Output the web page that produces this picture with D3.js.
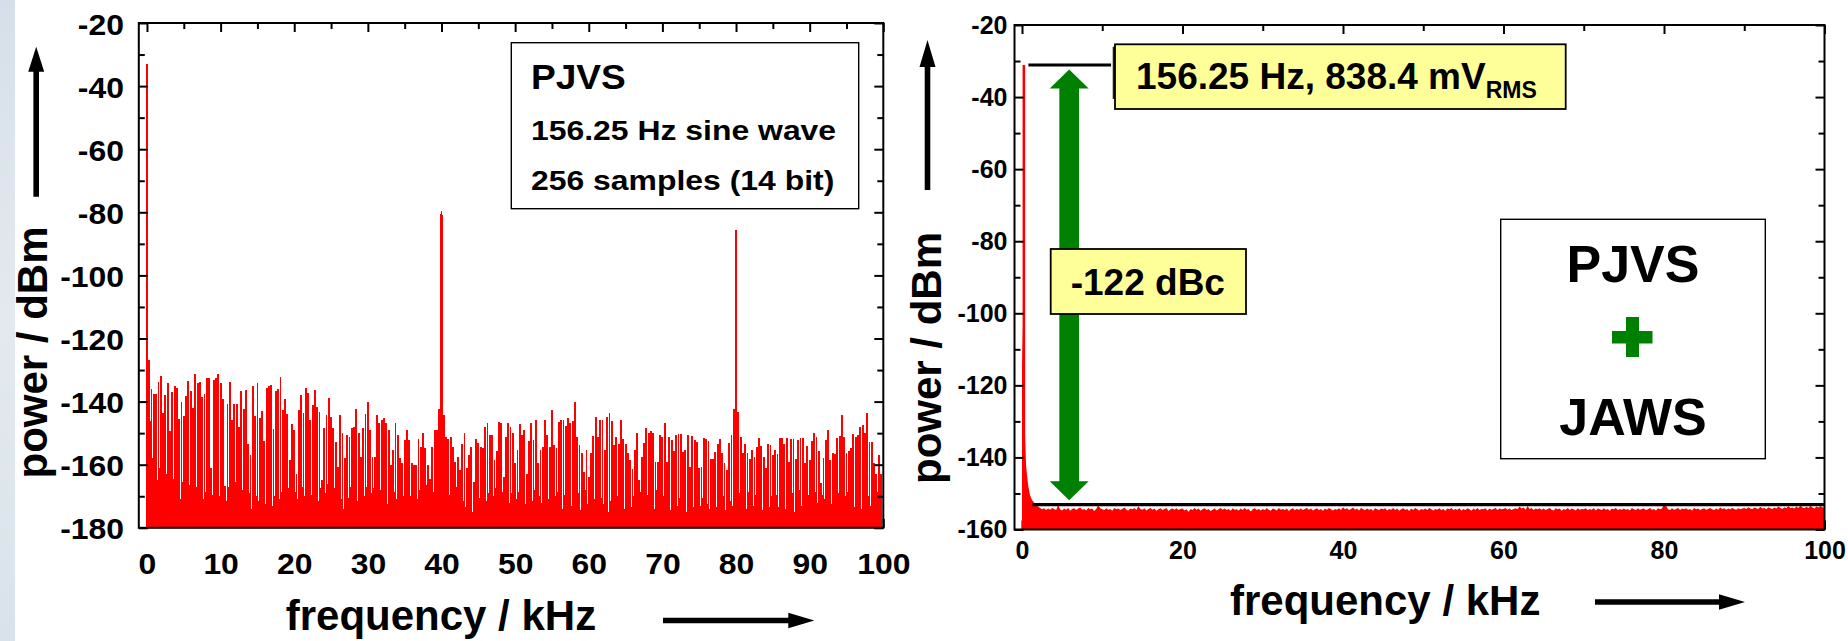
<!DOCTYPE html>
<html>
<head>
<meta charset="utf-8">
<script src="https://cdn.jsdelivr.net/npm/d3@7"></script>
<style>
  html, body { margin: 0; padding: 0; background: #fff; }
  svg { display: block; }
</style>
</head>
<body>
<svg id="chart" width="1848" height="641"></svg>
<script>
// ---------------------------------------------------------------------------
// Data
// ---------------------------------------------------------------------------

// FFT bin spacing of the 256-sample PJVS record (kHz)
const binWidthKHz = 0.15625;

// PJVS spectrum, even FFT bins (bin 2k), power in dBm
const pjvsEvenBinDb = [
  -33.0,
  // 0.3 – 20 kHz
  -126.7, -135.9, -137.5, -137.7, -133.8, -132.0, -143.6, -138.0, -134.0, -149.4, -137.0, -135.2, -135.6, -145.6, -140.0, -144.7,
  -138.1, -133.4, -136.6, -141.9, -131.3, -134.0, -133.8, -138.5, -137.5, -132.4, -132.6, -161.0, -133.0, -132.4, -131.3, -134.0,
  -139.3, -166.6, -140.8, -133.8, -145.7, -140.8, -140.8, -148.0, -136.7, -142.5, -136.4, -153.5, -157.0, -135.1, -144.7, -134.0,
  -145.1, -143.0, -152.5, -135.8, -135.1, -134.6, -148.8, -136.7, -136.0, -132.2, -142.8, -139.2, -143.9, -158.4, -147.1, -148.9,
  // 20 – 39.7 kHz
  -162.8, -142.7, -138.0, -143.5, -135.6, -137.2, -145.9, -141.1, -136.4, -141.6,
  -143.2, -164.7, -148.5, -144.3, -139.0, -144.8, -148.5, -152.7, -160.7, -144.3,
  -150.1, -158.0, -150.6, -151.2, -148.5, -148.0, -142.2, -150.1, -157.5, -148.5,
  -144.0, -140.1, -149.0, -157.5, -157.5, -144.3, -146.9, -145.9, -145.3, -146.9,
  -149.0, -160.1, -155.4, -146.9, -150.6, -158.0, -159.6, -152.2, -149.0, -152.2,
  -159.6, -160.1, -160.1, -151.7, -154.3, -150.1, -154.8, -160.1, -164.4, -154.3,
  -149.0, -149.0,
  // 40 kHz line
  -142.2, -79.5, -144.3,
  -151.2, -151.7, -151.2, -154.3, -159.1, -157.5,
  // 42.5 – 79.7 kHz
  -161.7, -153.3, -150.1, -161.2, -157.0, -154.3, -165.4, -152.0, -153.1, -154.5,
  -154.8, -148.0, -146.9, -150.6, -150.6, -158.5, -155.6, -146.4, -146.9, -163.8,
  -151.2, -146.9, -148.0, -150.1, -159.6, -155.2, -147.1, -150.6, -149.0, -162.8,
  -152.4, -146.7, -152.2, -145.9, -159.6, -155.2, -154.5, -145.7, -150.6, -154.3,
  -142.7, -153.9, -154.6, -146.4, -145.9, -145.7, -147.8, -145.3, -146.7, -146.1,
  -140.1, -151.2, -153.8, -156.4, -162.2, -155.2, -163.8, -156.4, -150.9, -145.0,
  -151.2, -145.9, -145.9, -155.4, -144.8, -143.5, -146.1, -153.8, -151.2, -153.5,
  -145.9, -151.7, -153.3, -156.4, -158.5, -161.5, -155.4, -150.1, -164.9, -157.5,
  -153.1, -148.5, -150.1, -149.3, -150.1, -159.1, -159.1, -150.6, -151.2, -146.7,
  -159.1, -151.2, -152.2, -155.6, -150.6, -150.3, -150.3, -155.9, -155.2, -150.6,
  -160.7, -150.9, -152.2, -152.7, -161.2, -160.7, -151.4, -152.0, -152.4, -158.3,
  -158.3, -155.9, -153.5, -151.7, -156.2, -159.6, -161.7, -153.1, -150.6,
  // 80 kHz line
  -142.5, -85.6, -143.2,
  // 80.6 – 99.7 kHz
  -151.2, -156.4, -153.3, -156.4, -158.3, -155.4, -157.7, -154.3, -151.4, -154.1,
  -157.5, -161.2, -153.3, -153.8, -157.0, -155.4, -156.6, -151.4, -151.4, -153.3,
  -151.4, -159.1, -152.0, -152.0, -158.3, -152.2, -151.4, -151.4, -159.6, -154.1,
  -158.5, -152.4, -149.9, -151.2, -155.6, -165.9, -158.0, -152.2, -149.0, -158.5,
  -156.4, -156.6, -151.4, -150.9, -144.3, -151.2, -156.4, -155.6, -154.8, -150.3,
  -151.2, -150.6, -148.2, -147.5, -150.1, -143.5, -152.7, -152.7, -159.4, -162.8,
  -157.0, -162.8
];

// PJVS spectrum, odd FFT bins (bin 2k+1), power in dBm
const pjvsOddBinDb = [
  -31.4, -146.0, -158.0, -163.5, -165.0, -161.0, -166.5, -168.0, -163.0, -170.0, -166.0, -164.5, -169.0, -167.0, -171.0, -165.5,
  -168.0, -172.0, -166.5, -169.0, -173.5, -167.0, -170.5, -165.0, -171.0, -168.5, -173.0, -166.0, -169.5, -172.5, -167.5, -170.0,
  -166.0, -169.5, -171.5, -167.0, -172.0, -168.5, -165.5, -170.5, -173.0, -168.0, -166.5, -171.0, -169.0, -174.0, -167.5, -170.0,
  -171.5, -168.0, -166.0, -172.5, -169.5, -167.0, -173.0, -170.0, -166.5, -171.0, -168.5, -174.5, -169.0, -167.5, -172.0, -170.5,
  -168.5, -171.0, -173.5, -167.0, -170.0, -172.5, -166.5, -169.5, -174.0, -168.0, -171.5, -167.5, -173.0, -169.0, -166.0, -172.0,
  -170.0, -167.5, -172.5, -169.0, -171.0, -174.0, -168.0, -170.5, -167.0, -173.5, -169.5, -171.5, -168.5, -175.0, -170.0, -167.0,
  -172.0, -169.0, -167.5, -171.5, -173.0, -168.0, -170.5, -166.5, -172.5, -169.5, -174.0, -168.5, -171.0, -167.0, -173.5, -170.0,
  -169.0, -172.5, -170.0, -167.5, -173.0, -171.0, -168.0, -174.5, -169.5, -166.5, -172.0, -170.5, -168.5, -173.5, -171.5, -80.5,
  -81.0, -168.0, -172.0, -169.5, -174.0, -170.5, -167.0, -172.5, -169.0, -171.5, -173.5, -168.5, -170.0, -175.0, -169.5, -172.0,
  -170.5, -173.0, -168.0, -171.5, -169.0, -174.5, -170.0, -167.5, -172.5, -171.0, -168.5, -173.5, -170.0, -172.0, -169.0, -174.0,
  -171.0, -168.5, -173.0, -170.5, -172.5, -169.0, -174.5, -171.5, -168.0, -173.0, -170.0, -172.0, -169.5, -175.0, -171.0, -168.5,
  -173.5, -170.0, -168.5, -172.0, -174.0, -169.5, -171.0, -167.5, -173.0, -170.5, -172.5, -169.0, -174.5, -171.5, -168.0, -172.5,
  -169.5, -173.0, -171.0, -168.0, -174.0, -170.5, -172.5, -169.0, -175.0, -171.5, -168.5, -173.5, -170.0, -172.0, -169.5, -174.0,
  -171.5, -169.0, -173.5, -170.0, -172.0, -175.0, -168.5, -171.0, -173.0, -169.5, -172.5, -170.5, -174.0, -168.0, -171.5, -173.0,
  -170.0, -172.5, -169.0, -174.5, -171.0, -168.5, -173.0, -170.5, -172.0, -169.5, -175.0, -171.5, -168.0, -173.5, -170.0, -172.0,
  -173.0, -170.5, -168.0, -172.5, -174.0, -169.5, -171.0, -173.5, -168.5, -172.0, -170.0, -174.5, -169.0, -171.5, -173.0, -86.8,
  -87.2, -169.0, -172.5, -170.0, -174.0, -168.5, -171.5, -173.0, -169.5, -172.0, -170.5, -174.5, -168.0, -171.0, -173.5, -170.0,
  -172.0, -169.5, -173.5, -171.0, -168.5, -174.0, -170.0, -172.5, -169.0, -175.0, -171.5, -168.0, -173.0, -170.5, -172.0, -169.5,
  -170.5, -173.0, -168.5, -172.0, -174.5, -169.5, -171.0, -173.5, -168.0, -172.5, -170.0, -174.0, -169.0, -171.5, -173.0, -170.0,
  -168.5, -172.0, -170.5, -173.5, -169.0, -171.5, -174.0, -168.0, -172.5, -170.0, -173.0, -169.5, -171.0, -168.5, -172.0, -170.5
];

// PJVS + JAWS spectrum: noise floor sampled every 0.25 kHz from 0 to 100 kHz (dBm)
const floorStepKHz = 0.25;
const jawsFloorDb = [
  -104.0, -125.0, -142.0, -147.5, -150.5, -151.8, -152.5, -153.2, -153.6, -154.0, -154.4, -154.1, -154.6, -154.2, -154.5, -154.0, -154.3, -154.6, -153.2, -154.4,
  -154.7, -154.2, -154.5, -154.0, -154.8, -154.3, -154.1, -154.6, -154.2, -153.9, -154.5, -154.3, -154.7, -154.0, -154.4, -154.2, -154.9, -154.3, -153.3, -154.1,
  -154.4, -154.6, -154.1, -154.5, -154.3, -154.8, -154.0, -154.4, -154.2, -154.6, -154.3, -153.9, -154.5, -154.7, -154.2, -154.4, -154.0, -154.6, -153.5, -154.3,
  -154.5, -154.1, -154.7, -154.3, -154.0, -154.5, -154.2, -154.8, -154.4, -154.1, -154.6, -154.3, -154.0, -154.9, -154.4, -154.2, -154.5, -154.1, -154.6, -154.3,
  -154.2, -154.7, -154.4, -155.1, -154.3, -154.6, -154.0, -154.5, -154.2, -154.8, -154.4, -154.1, -154.6, -154.3, -154.9, -154.5, -154.2, -154.7, -154.4, -154.0,
  -154.5, -154.2, -154.6, -154.3, -154.8, -154.1, -154.5, -154.4, -154.7, -154.2, -154.6, -154.0, -154.5, -154.3, -155.0, -154.4, -154.1, -154.6, -154.3, -154.7,
  -154.3, -154.6, -154.1, -154.5, -154.8, -154.2, -154.4, -154.7, -154.0, -154.5, -154.3, -154.6, -154.2, -154.9, -154.4, -154.1, -154.6, -154.3, -154.5, -154.2,
  -154.6, -154.3, -154.0, -154.5, -154.2, -154.7, -154.4, -154.1, -154.6, -154.3, -154.8, -154.2, -154.5, -154.0, -154.4, -154.7, -154.3, -154.5, -154.1, -154.6,
  -153.8, -154.4, -154.1, -154.6, -154.3, -153.9, -154.5, -154.2, -154.7, -154.0, -154.4, -154.6, -154.2, -154.5, -154.3, -154.8, -154.1, -154.4, -154.6, -154.2,
  -154.4, -154.1, -154.7, -154.3, -154.5, -154.0, -154.6, -154.2, -154.8, -154.4, -154.1, -154.5, -154.3, -154.9, -154.2, -154.6, -154.0, -154.4, -154.7, -154.3,
  -154.5, -154.2, -154.6, -154.0, -154.4, -154.7, -154.3, -154.5, -154.1, -154.6, -154.3, -154.8, -154.2, -154.4, -154.0, -154.6, -154.3, -154.5, -154.1, -154.7,
  -154.3, -154.6, -154.1, -154.4, -154.8, -154.2, -154.5, -154.0, -154.6, -154.3, -154.4, -154.1, -154.7, -154.2, -154.5, -154.3, -154.0, -154.6, -154.2, -154.4,
  -154.3, -154.0, -154.5, -154.2, -154.6, -154.3, -154.1, -154.4, -153.6, -154.2, -153.9, -154.5, -153.5, -154.3, -154.0, -154.6, -154.2, -154.4, -154.1, -154.5,
  -154.2, -154.6, -154.3, -154.0, -154.5, -154.7, -154.1, -154.4, -154.2, -154.8, -154.3, -154.5, -154.0, -154.6, -154.2, -154.4, -154.7, -154.1, -154.5, -154.3,
  -154.4, -154.1, -154.6, -154.3, -154.5, -154.0, -154.7, -154.2, -154.4, -154.6, -154.1, -154.5, -154.3, -154.8, -154.2, -154.4, -154.0, -154.6, -154.3, -154.5,
  -154.2, -154.5, -154.3, -154.7, -154.0, -154.4, -154.6, -154.1, -154.5, -154.3, -154.2, -154.6, -154.4, -154.0, -154.5, -154.3, -154.7, -154.1, -154.4, -154.2,
  -152.9, -153.4, -154.4, -154.6, -154.1, -154.5, -154.3, -154.0, -154.6, -154.2, -154.4, -154.1, -154.5, -154.3, -154.7, -154.0, -154.4, -154.2, -154.6, -154.3,
  -154.1, -154.5, -154.3, -154.0, -154.4, -154.6, -154.2, -154.5, -153.9, -154.3, -154.1, -154.5, -154.2, -154.4, -154.0, -154.3, -154.5, -154.1, -154.4, -154.2,
  -154.0, -154.3, -153.8, -154.2, -154.4, -153.9, -154.1, -154.3, -153.7, -154.2, -154.0, -154.4, -153.8, -154.1, -154.3, -153.9, -154.2, -153.6, -154.0, -154.3,
  -153.8, -154.1, -153.5, -154.0, -153.9, -154.2, -153.6, -154.0, -153.3, -153.9, -154.1, -153.7, -154.0, -153.4, -153.9, -154.2, -153.6, -153.9, -153.5, -153.8,
  -154.0
];

// 156.25 Hz carrier of the combined system and its distance to the noise floor
const carrierKHz = 0.15625;
const carrierDb = -31.1;
const carrierDbc = -122;

// axis ticks
const leftXMajor = [0, 10, 20, 30, 40, 50, 60, 70, 80, 90, 100];
const leftXMinor = [5, 15, 25, 35, 45, 55, 65, 75, 85, 95];
const leftYMajor = [-180, -160, -140, -120, -100, -80, -60, -40, -20];
const leftYMinor = [-170, -150, -130, -110, -90, -70, -50, -30];
const rightXMajor = [0, 20, 40, 60, 80, 100];
const rightXMinor = [10, 30, 50, 70, 90];
const rightYMajor = [-160, -140, -120, -100, -80, -60, -40, -20];
const rightYMinor = [-150, -130, -110, -90, -70, -50, -30];

// text
const pjvsLegend = ["PJVS", "156.25 Hz sine wave", "256 samples (14 bit)"];
const carrierLabel = "156.25 Hz, 838.4 mV";
const carrierLabelSub = "RMS";
const dbcText = "-122 dBc";
const comboTop = "PJVS";
const comboBottom = "JAWS";
const xTitle = "frequency / kHz";
const yTitle = "power / dBm";

// ---------------------------------------------------------------------------
// Drawing
// ---------------------------------------------------------------------------
const FONT = '"Liberation Sans", Arial, Helvetica, sans-serif';
const RED = "#ff0000";
const GREEN = "#008000";
const svg = d3.select("#chart");

// pale strip along the left edge of the slide
const defs = svg.append("defs");
const grad = defs.append("linearGradient").attr("id", "edge").attr("x1", 0).attr("x2", 0).attr("y1", 0).attr("y2", 1);
grad.append("stop").attr("offset", 0).attr("stop-color", "#d6dfe9");
grad.append("stop").attr("offset", 0.5).attr("stop-color", "#e3e9f0");
grad.append("stop").attr("offset", 1).attr("stop-color", "#d9e2eb");
svg.append("rect").attr("x", 0).attr("y", 0).attr("width", 15).attr("height", 641).attr("fill", "url(#edge)");

function axisG(parent, axis, tx, ty) {
  const g = parent.append("g").attr("transform", `translate(${tx},${ty})`).call(axis);
  g.select(".domain").remove();
  g.selectAll(".tick line").attr("stroke", "#000").attr("stroke-width", 2);
  g.attr("font-family", FONT).attr("font-weight", "bold");
  return g;
}

function arrowUp(parent, cx, yTip, yEnd, headW, headH, shaftW, fill) {
  const p = d3.path();
  p.moveTo(cx, yTip);
  p.lineTo(cx + headW / 2, yTip + headH);
  p.lineTo(cx + shaftW / 2, yTip + headH);
  p.lineTo(cx + shaftW / 2, yEnd);
  p.lineTo(cx - shaftW / 2, yEnd);
  p.lineTo(cx - shaftW / 2, yTip + headH);
  p.lineTo(cx - headW / 2, yTip + headH);
  p.closePath();
  parent.append("path").attr("d", p.toString()).attr("fill", fill);
}

function arrowRight(parent, xStart, xTip, cy, headL, headH, shaftW, fill) {
  const p = d3.path();
  p.moveTo(xTip, cy);
  p.lineTo(xTip - headL, cy - headH / 2);
  p.lineTo(xTip - headL, cy - shaftW / 2);
  p.lineTo(xStart, cy - shaftW / 2);
  p.lineTo(xStart, cy + shaftW / 2);
  p.lineTo(xTip - headL, cy + shaftW / 2);
  p.lineTo(xTip - headL, cy + headH / 2);
  p.closePath();
  parent.append("path").attr("d", p.toString()).attr("fill", fill);
}

function doubleArrow(parent, cx, yTop, yBot, headW, headH, shaftW, fill) {
  const p = d3.path();
  p.moveTo(cx, yTop);
  p.lineTo(cx + headW / 2, yTop + headH);
  p.lineTo(cx + shaftW / 2, yTop + headH);
  p.lineTo(cx + shaftW / 2, yBot - headH);
  p.lineTo(cx + headW / 2, yBot - headH);
  p.lineTo(cx, yBot);
  p.lineTo(cx - headW / 2, yBot - headH);
  p.lineTo(cx - shaftW / 2, yBot - headH);
  p.lineTo(cx - shaftW / 2, yTop + headH);
  p.lineTo(cx - headW / 2, yTop + headH);
  p.closePath();
  parent.append("path").attr("d", p.toString()).attr("fill", fill);
}

function label(parent, x, y, txt, size, sx, anchor) {
  return parent.append("text")
    .attr("transform", `translate(${x},${y}) scale(${sx || 1},1)`)
    .attr("text-anchor", anchor || "start")
    .attr("font-family", FONT).attr("font-weight", "bold")
    .attr("font-size", size).attr("fill", "#000")
    .text(txt);
}

// ----------------------------- left panel: PJVS ----------------------------
const L = { left: 138.8, right: 883.3, top: 23, bottom: 527.8 };
const xL = d3.scaleLinear().domain([-1.11, 100]).range([L.left, L.right]);
const yL = d3.scaleLinear().domain([-180, -20]).range([L.bottom, L.top]);
const gL = svg.append("g");
const LSX = 1.1; // horizontal stretch of the left panel lettering

// bottom ticks + labels (tick marks sit beneath the spectrum)
axisG(gL, d3.axisBottom(xL).tickValues(leftXMinor).tickSize(-6).tickFormat(""), 0, L.bottom);
const lxLab = axisG(gL, d3.axisBottom(xL).tickValues(leftXMajor).tickSize(-9).tickPadding(25.5)
  .tickFormat(d => String(d)), 0, L.bottom).attr("font-size", 29);
lxLab.selectAll("text").attr("transform", `scale(${LSX},1)`);

// spectrum columns, one per FFT bin: the even-bin columns are drawn wide,
// the odd-bin ones narrow, so each pair fills two bin spacings
const pjvsBins = [];
pjvsEvenBinDb.forEach((db, k) => {
  pjvsBins.push({ f: 2 * k * binWidthKHz, db, even: true });
  pjvsBins.push({ f: (2 * k + 1) * binWidthKHz, db: pjvsOddBinDb[k], even: false });
});
const pairW = xL(2 * binWidthKHz) - xL(0);
const wideW = pairW * 0.8, narrowW = pairW - wideW;
gL.append("g").attr("shape-rendering", "crispEdges")
  .selectAll("rect").data(pjvsBins).join("rect")
  .attr("x", d => xL(d.f) - (d.even ? wideW : narrowW) / 2)
  .attr("width", d => d.even ? wideW : narrowW)
  .attr("y", d => yL(d.db))
  .attr("height", d => yL(-180) - yL(d.db))
  .attr("fill", RED);

// remaining ticks on top of the data
axisG(gL, d3.axisTop(xL).tickValues(leftXMajor).tickSize(-9).tickFormat(""), 0, L.top);
axisG(gL, d3.axisTop(xL).tickValues(leftXMinor).tickSize(-6).tickFormat(""), 0, L.top);
axisG(gL, d3.axisLeft(yL).tickValues(leftYMinor).tickSize(-6).tickFormat(""), L.left, 0);
axisG(gL, d3.axisRight(yL).tickValues(leftYMajor).tickSize(-9).tickFormat(""), L.right, 0);
axisG(gL, d3.axisRight(yL).tickValues(leftYMinor).tickSize(-6).tickFormat(""), L.right, 0);
const lyLab = axisG(gL, d3.axisLeft(yL).tickValues(leftYMajor).tickSize(-9).tickPadding(13.5)
  .tickFormat(d => String(d)), L.left, 0).attr("font-size", 29);
lyLab.selectAll("text").attr("transform", `scale(${LSX},1)`).attr("dy", "0.38em");

gL.append("rect").attr("x", L.left).attr("y", L.top)
  .attr("width", L.right - L.left).attr("height", L.bottom - L.top)
  .attr("fill", "none").attr("stroke", "#000").attr("stroke-width", 2);

// legend
gL.append("rect").attr("x", 511.3).attr("y", 42.7).attr("width", 347.4).attr("height", 166)
  .attr("fill", "#fff").attr("stroke", "#000").attr("stroke-width", 1.4);
label(gL, 531, 89.3, pjvsLegend[0], 35, 1.06);
label(gL, 531, 139.5, pjvsLegend[1], 28.5, 1.12);
label(gL, 531, 189.5, pjvsLegend[2], 28.5, 1.12);

// axis titles and direction arrows
label(gL, 285.7, 630, xTitle, 42, 1);
arrowRight(gL, 663, 814.3, 620.5, 26, 15.6, 5.6, "#000");
gL.append("text").attr("transform", "translate(46.5,352.5) rotate(-90)")
  .attr("text-anchor", "middle").attr("font-family", FONT).attr("font-weight", "bold")
  .attr("font-size", 42).text(yTitle);
arrowUp(gL, 36.2, 46.7, 196.7, 16, 25, 5.6, "#000");

// ------------------------ right panel: PJVS + JAWS -------------------------
const R = { left: 1014.5, right: 1824.5, top: 25, bottom: 529.5 };
const xR = d3.scaleLinear().domain([-0.935, 100]).range([R.left, R.right]);
const yR = d3.scaleLinear().domain([-160, -20]).range([R.bottom, R.top]);
const gR = svg.append("g");

axisG(gR, d3.axisBottom(xR).tickValues(rightXMinor).tickSize(-6).tickFormat(""), 0, R.bottom);
axisG(gR, d3.axisBottom(xR).tickValues(rightXMajor).tickSize(-9).tickPadding(12)
  .tickFormat(d => String(d)), 0, R.bottom).attr("font-size", 25);

// noise floor and carrier
const floorPts = jawsFloorDb.map((db, i) => ({ f: i * floorStepKHz, db }));
gR.append("path").datum(floorPts)
  .attr("d", d3.area().x(d => xR(d.f)).y0(yR(-160)).y1(d => yR(d.db)))
  .attr("fill", RED);
gR.append("line")
  .attr("x1", xR(carrierKHz) + 0.6).attr("x2", xR(carrierKHz) + 0.6)
  .attr("y1", yR(-160)).attr("y2", yR(carrierDb))
  .attr("stroke", RED).attr("stroke-width", 2.6);

// carrier and floor reference lines
const floorLevel = carrierDb + carrierDbc;
gR.append("line").attr("x1", xR(1.3)).attr("x2", xR(100))
  .attr("y1", yR(floorLevel)).attr("y2", yR(floorLevel))
  .attr("stroke", "#000").attr("stroke-width", 3.4);
gR.append("line").attr("x1", xR(0.8)).attr("x2", xR(11.1))
  .attr("y1", yR(carrierDb)).attr("y2", yR(carrierDb))
  .attr("stroke", "#000").attr("stroke-width", 3);

axisG(gR, d3.axisTop(xR).tickValues(rightXMajor).tickSize(-9).tickFormat(""), 0, R.top);
axisG(gR, d3.axisTop(xR).tickValues(rightXMinor).tickSize(-6).tickFormat(""), 0, R.top);
axisG(gR, d3.axisLeft(yR).tickValues(rightYMinor).tickSize(-6).tickFormat(""), R.left, 0);
axisG(gR, d3.axisRight(yR).tickValues(rightYMajor).tickSize(-9).tickFormat(""), R.right, 0);
axisG(gR, d3.axisRight(yR).tickValues(rightYMinor).tickSize(-6).tickFormat(""), R.right, 0);
axisG(gR, d3.axisLeft(yR).tickValues(rightYMajor).tickSize(-9).tickPadding(7)
  .tickFormat(d => String(d)), R.left, 0).attr("font-size", 25);

gR.append("rect").attr("x", R.left).attr("y", R.top)
  .attr("width", R.right - R.left).attr("height", R.bottom - R.top)
  .attr("fill", "none").attr("stroke", "#000").attr("stroke-width", 2);

// green span arrow between carrier and floor
doubleArrow(gR, xR(5.88), yR(carrierDb) + 4.5, yR(floorLevel) - 4.5, 39, 19, 19.7, GREEN);

// carrier callout
gR.append("rect").attr("x", 1112.7).attr("y", 46.7).attr("width", 3).attr("height", 52.3).attr("fill", "#222");
gR.append("rect").attr("x", 1115).attr("y", 44.3).attr("width", 450.7).attr("height", 64.7)
  .attr("fill", "#ffff99").attr("stroke", "#000").attr("stroke-width", 1.8);
const cl = label(gR, 1136, 89.3, carrierLabel, 37, 1);
cl.append("tspan").attr("font-size", 23).attr("dy", 9).text(carrierLabelSub);

// dBc callout
gR.append("rect").attr("x", 1050.7).attr("y", 249).attr("width", 195.3).attr("height", 65)
  .attr("fill", "#ffff99").attr("stroke", "#000").attr("stroke-width", 1.8);
label(gR, 1070.7, 295, dbcText, 37, 1);

// system legend
gR.append("rect").attr("x", 1500.7).attr("y", 219.3).attr("width", 264.6).attr("height", 239.4)
  .attr("fill", "#fff").attr("stroke", "#000").attr("stroke-width", 1.4);
label(gR, 1633, 281.7, comboTop, 52, 1, "middle");
label(gR, 1633, 435, comboBottom, 52, 1, "middle");
gR.append("path")
  .attr("d", "M1626,317H1639V331H1652.5V343.5H1639V357H1626V343.5H1612V331H1626Z")
  .attr("fill", GREEN);

// axis titles and direction arrows
label(gR, 1230, 615, xTitle, 42, 1);
arrowRight(gR, 1595, 1745, 602, 26, 15.3, 5.6, "#000");
gR.append("text").attr("transform", "translate(940.5,358) rotate(-90)")
  .attr("text-anchor", "middle").attr("font-family", FONT).attr("font-weight", "bold")
  .attr("font-size", 42).text(yTitle);
arrowUp(gR, 927.5, 40, 190, 16, 27, 5.6, "#000");
</script>
</body>
</html>
